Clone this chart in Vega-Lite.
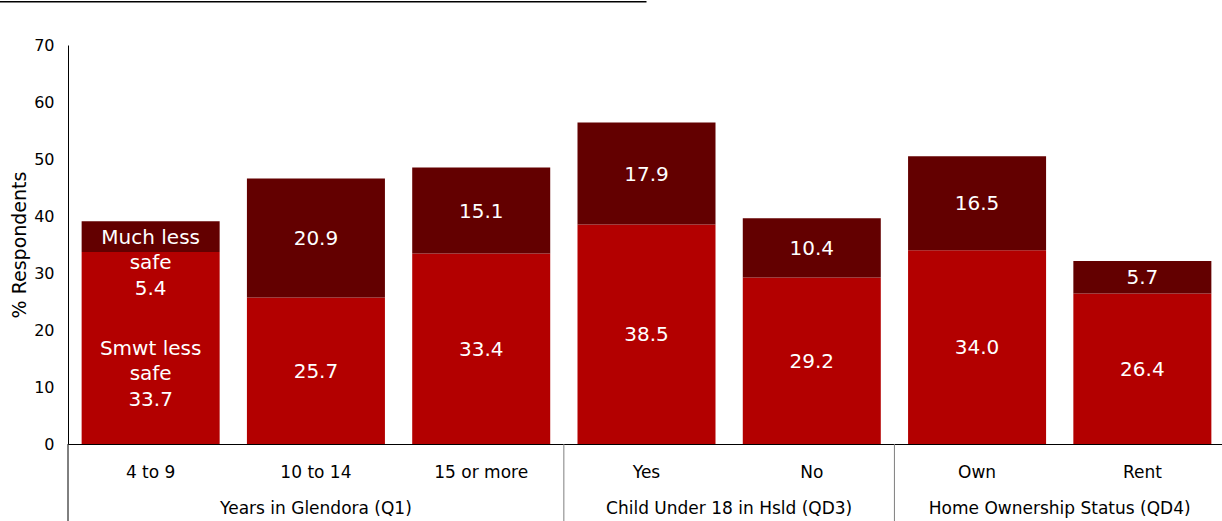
{
  "$schema": "https://vega.github.io/schema/vega-lite/v6.json",
  "width": 1154,
  "height": 399,
  "autosize": {"type": "none"},
  "padding": {"left": 68, "top": 45, "right": 0, "bottom": 77},
  "background": "white",
  "config": {
    "font": "DejaVu Sans",
    "view": {"stroke": null},
    "axis": {"domainColor": "black", "domainWidth": 1, "ticks": false, "grid": false, "labelColor": "black", "titleColor": "black"}
  },
  "datasets": {
    "bars": [
      {"group": "Years in Glendora (Q1)", "category": "4 to 9", "level": "Smwt less safe", "value": 33.7, "prefix": "Smwt less\nsafe"},
      {"group": "Years in Glendora (Q1)", "category": "4 to 9", "level": "Much less safe", "value": 5.4, "prefix": "Much less\nsafe"},
      {"group": "Years in Glendora (Q1)", "category": "10 to 14", "level": "Smwt less safe", "value": 25.7, "prefix": ""},
      {"group": "Years in Glendora (Q1)", "category": "10 to 14", "level": "Much less safe", "value": 20.9, "prefix": ""},
      {"group": "Years in Glendora (Q1)", "category": "15 or more", "level": "Smwt less safe", "value": 33.4, "prefix": ""},
      {"group": "Years in Glendora (Q1)", "category": "15 or more", "level": "Much less safe", "value": 15.1, "prefix": ""},
      {"group": "Child Under 18 in Hsld (QD3)", "category": "Yes", "level": "Smwt less safe", "value": 38.5, "prefix": ""},
      {"group": "Child Under 18 in Hsld (QD3)", "category": "Yes", "level": "Much less safe", "value": 17.9, "prefix": ""},
      {"group": "Child Under 18 in Hsld (QD3)", "category": "No", "level": "Smwt less safe", "value": 29.2, "prefix": ""},
      {"group": "Child Under 18 in Hsld (QD3)", "category": "No", "level": "Much less safe", "value": 10.4, "prefix": ""},
      {"group": "Home Ownership Status (QD4)", "category": "Own", "level": "Smwt less safe", "value": 34.0, "prefix": ""},
      {"group": "Home Ownership Status (QD4)", "category": "Own", "level": "Much less safe", "value": 16.5, "prefix": ""},
      {"group": "Home Ownership Status (QD4)", "category": "Rent", "level": "Smwt less safe", "value": 26.4, "prefix": ""},
      {"group": "Home Ownership Status (QD4)", "category": "Rent", "level": "Much less safe", "value": 5.7, "prefix": ""}
    ],
    "groups": [
      {"group": "Years in Glendora (Q1)", "first": "4 to 9", "middle": "10 to 14"},
      {"group": "Child Under 18 in Hsld (QD3)", "first": "Yes", "middle": "Yes"},
      {"group": "Home Ownership Status (QD4)", "first": "Own", "middle": "Own"}
    ]
  },
  "layer": [
    {
      "data": {"name": "bars"},
      "layer": [
        {
          "mark": {"type": "bar", "width": {"band": 0.835}},
          "encoding": {
            "x": {
              "field": "category",
              "type": "nominal",
              "scale": {"domain": ["4 to 9", "10 to 14", "15 or more", "Yes", "No", "Own", "Rent"], "paddingInner": 0, "paddingOuter": 0, "range": [0, 1157]},
              "axis": {"title": null, "labelAngle": 0, "labelFontSize": 17, "labelPadding": 20}
            },
            "y": {
              "field": "value",
              "type": "quantitative",
              "stack": "zero",
              "scale": {"domain": [0, 70], "nice": false},
              "axis": {"title": "% Respondents", "values": [0, 10, 20, 30, 40, 50, 60, 70], "labelFontSize": 16, "labelPadding": 14, "titleFontSize": 19, "titleFontWeight": "normal", "titlePadding": 4}
            },
            "color": {
              "field": "level",
              "type": "nominal",
              "scale": {"domain": ["Smwt less safe", "Much less safe"], "range": ["#B30000", "#630000"]},
              "legend": null
            },
            "order": {"field": "level", "sort": "descending"}
          }
        },
        {
          "transform": [
            {"calculate": "(datum.prefix ? datum.prefix + '\\n' : '') + format(datum.value, '.1f')", "as": "label"}
          ],
          "mark": {"type": "text", "color": "white", "fontSize": 20, "baseline": "alphabetic", "dy": 7, "lineBreak": "\n", "lineHeight": 25.5},
          "encoding": {
            "x": {"field": "category", "type": "nominal"},
            "y": {"field": "value", "type": "quantitative", "stack": "zero", "bandPosition": 0.5},
            "order": {"field": "level", "sort": "descending"},
            "text": {"field": "label"}
          }
        }
      ]
    },
    {
      "data": {"name": "groups"},
      "mark": {"type": "rule", "strokeWidth": 1},
      "encoding": {
        "x": {"field": "first", "type": "nominal", "bandPosition": 0},
        "y": {"datum": 0},
        "y2": {"datum": -13.6},
        "color": {"condition": {"test": "datum.first === '4 to 9'", "value": "black"}, "value": "#7f7f7f"}
      }
    },
    {
      "data": {"name": "groups"},
      "transform": [{"filter": "datum.first === '4 to 9'"}],
      "mark": {"type": "text", "fontSize": 17, "color": "black", "baseline": "alphabetic"},
      "encoding": {
        "x": {"field": "middle", "type": "nominal", "bandPosition": 0.5},
        "y": {"datum": -12.3},
        "text": {"field": "group"}
      }
    },
    {
      "data": {"name": "groups"},
      "transform": [{"filter": "datum.first !== '4 to 9'"}],
      "mark": {"type": "text", "fontSize": 17, "color": "black", "baseline": "alphabetic"},
      "encoding": {
        "x": {"field": "middle", "type": "nominal", "bandPosition": 1},
        "y": {"datum": -12.3},
        "text": {"field": "group"}
      }
    },
    {
      "data": {"values": [{"from": "4 to 9", "to": "Yes"}]},
      "mark": {"type": "rule", "color": "black", "strokeWidth": 1.5},
      "encoding": {
        "x": {"field": "from", "type": "nominal", "bandPosition": -0.4125},
        "x2": {"field": "to"},
        "y": {"datum": 77.6}
      }
    }
  ]
}
